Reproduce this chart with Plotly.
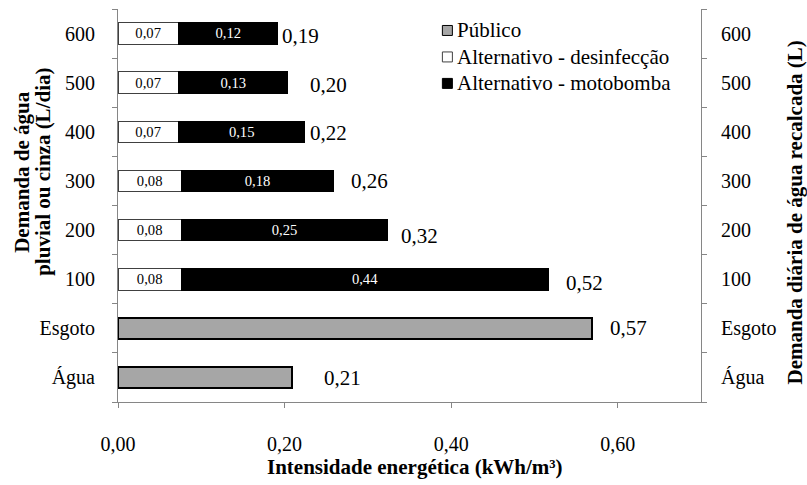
import plotly.graph_objects as go

# ---------------- data ----------------
categories = ["Água", "Esgoto", "100", "200", "300", "400", "500", "600"]
series_names = ["Público", "Alternativo - desinfecção", "Alternativo - motobomba"]
publico = [0.209, 0.569, None, None, None, None, None, None]
desinfeccao = [None, None, 0.076, 0.076, 0.076, 0.073, 0.073, 0.073]
motobomba = [None, None, 0.441, 0.248, 0.183, 0.151, 0.131, 0.119]
x_ticks = [0.0, 0.2, 0.4, 0.6]
y_title_lines = ["Demanda de água", "pluvial ou cinza (L/dia)"]
y2_title = "Demanda diária de água recalcada (L)"
x_title = "Intensidade energética (kWh/m³)"

# ---------------- style / layout constants ----------------
W, H = 807, 485
L, R, T, B = 117.5, 106.3, 8.5, 83
FONT = "Liberation Serif"
AXC = "#868686"
FILLS = ["#a6a6a6", "white", "black"]
LINES = ["black", "#404040", "black"]
# label offsets (px) for total labels, per category
LBL_XSHIFT = [30, 16, 15, 11, 15, 3, 20, 2.5]
LBL_YSHIFT = [-1, 0, -4, -5.5, 0, -1, -2.5, -2]
# manual legend placement (px)
LEG_SYM_X = 442
LEG_TXT_X = 455
LEG_ROWS_Y = [30, 56.5, 83]
LEG_SYM = 10
YT_X = [22, 43]
YT_Y = 172

pw, ph = W - L - R, H - T - B


def px(x):
    return (x - L) / pw


def py(y):
    return (H - B - y) / ph


def fmt(v):
    return None if v is None else f"{v:.2f}".replace(".", ",")


totals = []
for p, d, m in zip(publico, desinfeccao, motobomba):
    totals.append(sum(v for v in (p, d, m) if v is not None))

fig = go.Figure()
fig.add_trace(go.Bar(
    y=categories, x=publico, orientation="h", name=series_names[0],
    marker=dict(color=FILLS[0], line=dict(color=LINES[0], width=2)),
))
fig.add_trace(go.Bar(
    y=categories, x=desinfeccao, orientation="h", name=series_names[1],
    marker=dict(color=FILLS[1], line=dict(color=LINES[1], width=1)),
    text=[fmt(v) for v in desinfeccao], textposition="inside",
    insidetextanchor="middle", textangle=0,
    textfont=dict(family=FONT, size=15, color="black"),
))
fig.add_trace(go.Bar(
    y=categories, x=motobomba, orientation="h", name=series_names[2],
    marker=dict(color=FILLS[2], line=dict(color=LINES[2], width=1)),
    text=[fmt(v) for v in motobomba], textposition="inside",
    insidetextanchor="middle", textangle=0,
    textfont=dict(family=FONT, size=15, color="white"),
))
# invisible anchor trace for the right-hand category axis
fig.add_trace(go.Scatter(
    y=categories, x=totals, yaxis="y2", mode="markers",
    marker=dict(opacity=0), showlegend=False, hoverinfo="skip",
))

# total labels (category index used as position on category axis)
for i, t in enumerate(totals):
    fig.add_annotation(
        x=t, y=i, xref="x", yref="y", text=fmt(t), showarrow=False,
        xanchor="left", yanchor="middle",
        xshift=LBL_XSHIFT[i], yshift=LBL_YSHIFT[i],
        font=dict(family=FONT, size=21, color="black"),
    )

# manual legend
for name, fc, lc, yy in zip(series_names, FILLS, LINES, LEG_ROWS_Y):
    fig.add_shape(
        type="rect", xref="paper", yref="paper",
        x0=px(LEG_SYM_X), x1=px(LEG_SYM_X + LEG_SYM),
        y0=py(yy + LEG_SYM / 2), y1=py(yy - LEG_SYM / 2),
        fillcolor=fc, line=dict(color=lc if fc != "white" else "#404040", width=1),
    )
    fig.add_annotation(
        x=px(LEG_TXT_X), y=py(yy), xref="paper", yref="paper", text=name,
        showarrow=False, xanchor="left", yanchor="middle",
        font=dict(family=FONT, size=21, color="black"),
    )

# axis titles
for line, xx in zip(y_title_lines, YT_X):
    fig.add_annotation(
        x=px(xx), y=py(YT_Y), xref="paper", yref="paper", showarrow=False,
        text=f"<b>{line}</b>", textangle=-90,
        font=dict(family=FONT, size=21, color="black"), xanchor="center", yanchor="middle",
    )
fig.add_annotation(
    x=px(795), y=py(212), xref="paper", yref="paper", showarrow=False,
    text=f"<b>{y2_title}</b>", textangle=-90,
    font=dict(family=FONT, size=21, color="black"), xanchor="center", yanchor="middle",
)
fig.add_annotation(
    x=px(415), y=py(467), xref="paper", yref="paper", showarrow=False,
    text=f"<b>{x_title}</b>",
    font=dict(family=FONT, size=21, color="black"), xanchor="center", yanchor="middle",
)

yax = dict(
    type="category", categoryorder="array", categoryarray=categories,
    range=[-0.5, len(categories) - 0.5], tickson="boundaries",
    ticks="outside", ticklen=5, tickcolor=AXC, showline=True, linecolor=AXC,
    linewidth=1, showgrid=False, zeroline=False,
    tickfont=dict(family=FONT, size=20, color="black"), fixedrange=True,
)

fig.update_layout(
    width=W, height=H,
    margin=dict(l=L, r=R, t=T, b=B, pad=0),
    paper_bgcolor="white", plot_bgcolor="white",
    barmode="stack", bargap=0.56,
    separators=",.",
    showlegend=False,
    xaxis=dict(
        range=[0, 0.7], tickvals=x_ticks, tickformat=".2f",
        ticks="outside", ticklen=5, tickcolor=AXC, showline=True, linecolor=AXC,
        linewidth=1, showgrid=False, zeroline=False,
        tickfont=dict(family=FONT, size=20, color="black"),
        ticklabelstandoff=19,
    ),
    yaxis=dict(**yax, side="left", ticklabelstandoff=18),
    yaxis2=dict(**yax, side="right", overlaying="y", ticklabelstandoff=15),
)

fig.write_html("out.html")
